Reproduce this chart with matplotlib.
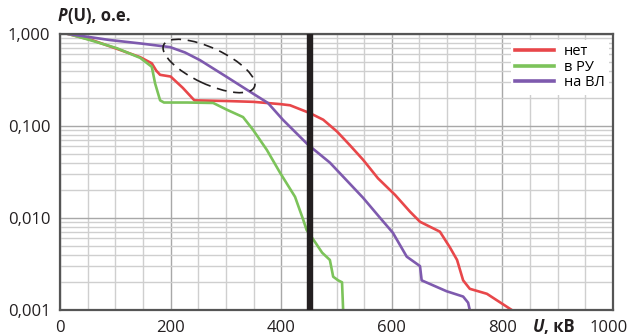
import matplotlib
matplotlib.use("Agg")
import matplotlib.pyplot as plt
from matplotlib.patches import Ellipse
from matplotlib.transforms import IdentityTransform, ScaledTranslation
from matplotlib.ticker import FixedLocator, LogLocator, NullFormatter

# Data
red_u = [15, 60, 100, 145, 166, 174, 181, 200, 222, 243, 300, 350, 398, 416, 452, 476,
         501, 524, 548, 575, 606, 633, 651, 687, 705, 718, 729, 741, 772, 817]
red_p = [1.0, 0.85, 0.70, 0.56, 0.48, 0.40, 0.36, 0.345, 0.26, 0.19, 0.187, 0.183, 0.173,
         0.168, 0.138, 0.117, 0.087, 0.062, 0.043, 0.027, 0.0178, 0.0117, 0.0091, 0.0071,
         0.0048, 0.0035, 0.0021, 0.0017, 0.0015, 0.001]

green_u = [15, 54, 103, 145, 166, 172, 181, 188, 230, 277, 302, 331, 349, 374, 398, 425,
           440, 446, 461, 474, 488, 494, 503, 510, 512]
green_p = [1.0, 0.86, 0.70, 0.55, 0.44, 0.29, 0.19, 0.18, 0.18, 0.178, 0.15, 0.125,
           0.091, 0.055, 0.031, 0.017, 0.0095, 0.0074, 0.0055, 0.0042, 0.0035, 0.0023,
           0.0021, 0.002, 0.001]

purple_u = [15, 90, 145, 199, 226, 253, 302, 344, 376, 403, 448, 488, 548, 579, 602, 627,
            651, 654, 699, 729, 738, 741]
purple_p = [1.0, 0.86, 0.79, 0.72, 0.63, 0.52, 0.34, 0.235, 0.178, 0.117, 0.063, 0.04,
            0.0166, 0.01, 0.0069, 0.0038, 0.003, 0.0021, 0.0016, 0.0014, 0.0012, 0.001]

labels = ["нет", "в РУ", "на ВЛ"]
x_ticks = [0, 200, 400, 600, 800, 1000]
y_ticks = [0.001, 0.01, 0.1, 1.0]
y_tick_labels = ["0,001", "0,010", "0,100", "1,000"]
u_mark = 452

plt.rcParams['font.family'] = ['Open Sans', 'DejaVu Sans']

fig = plt.figure(figsize=(6.29, 3.36), dpi=100)
ax = fig.add_axes([60/629, 26/336, 553/629, 276/336])

ax.set_yscale('log')
ax.set_xlim(0, 1000)
ax.set_ylim(0.001, 1.0)

# grid
ax.xaxis.set_major_locator(FixedLocator(x_ticks))
ax.xaxis.set_minor_locator(FixedLocator(list(range(50, 1000, 50))))
ax.yaxis.set_major_locator(FixedLocator(y_ticks))
ax.yaxis.set_minor_locator(LogLocator(base=10, subs=range(2, 10)))
ax.yaxis.set_minor_formatter(NullFormatter())
ax.grid(which='minor', color='#cfcfcf', linewidth=1.0)
ax.grid(which='major', color='#a8a8a8', linewidth=1.0)
ax.set_axisbelow(True)

ax.set_xticklabels([str(v) for v in x_ticks])
ax.set_yticklabels(y_tick_labels)
ax.tick_params(which='both', length=0, labelsize=12, colors='#231f20')
ax.tick_params(axis='x', pad=7)
ax.tick_params(axis='y', pad=7)

for s in ax.spines.values():
    s.set_color('#555555')
    s.set_linewidth(1.6)

ax.plot(red_u, red_p, color='#e8474a', lw=1.9, label=labels[0])
ax.plot(green_u, green_p, color='#7cc35a', lw=1.9, label=labels[1])
ax.plot(purple_u, purple_p, color='#7e5aae', lw=1.9, label=labels[2])

ax.axvline(u_mark, color='#231f20', lw=4.6, zorder=5)

leg = ax.legend(loc='upper right', frameon=True, fontsize=10.5, handlelength=2.7,
                labelspacing=0.05, handletextpad=0.65, borderpad=0.3,
                bbox_to_anchor=(1.006, 1.006))
leg.get_frame().set_edgecolor('none')
leg.get_frame().set_facecolor('white')
leg.get_frame().set_alpha(1)
for line in leg.get_lines():
    line.set_linewidth(2.6)

# dashed ellipse (pixel coordinates of the figure)
ell = Ellipse((209, 336 - 66), 100, 36, angle=-25, transform=IdentityTransform(),
              fill=False, edgecolor='#231f20', lw=1.2, linestyle=(0, (6, 4)), zorder=6)
fig.add_artist(ell)

# axis titles
t1 = fig.text(58/629, 1 - 21/336, "P", fontsize=12, fontweight='bold', style='italic',
              va='baseline', color='#231f20')
ax.annotate("(U), o.e.", xy=(1, 0), xycoords=t1, fontsize=12, fontweight='bold',
            va='bottom', ha='left', color='#231f20')
t2 = fig.text(533/629, 1 - 332/336, "U", fontsize=12, fontweight='bold', style='italic',
              va='baseline', color='#231f20')
ax.annotate(", кВ", xy=(1, 0), xycoords=t2, fontsize=12, fontweight='bold',
            va='bottom', ha='left', color='#231f20')

fig.canvas.draw()
last = ax.get_xticklabels()[-1]
last.set_transform(last.get_transform() + ScaledTranslation(-4/100, 0, fig.dpi_scale_trans))

fig.savefig("out.png", dpi=100)
